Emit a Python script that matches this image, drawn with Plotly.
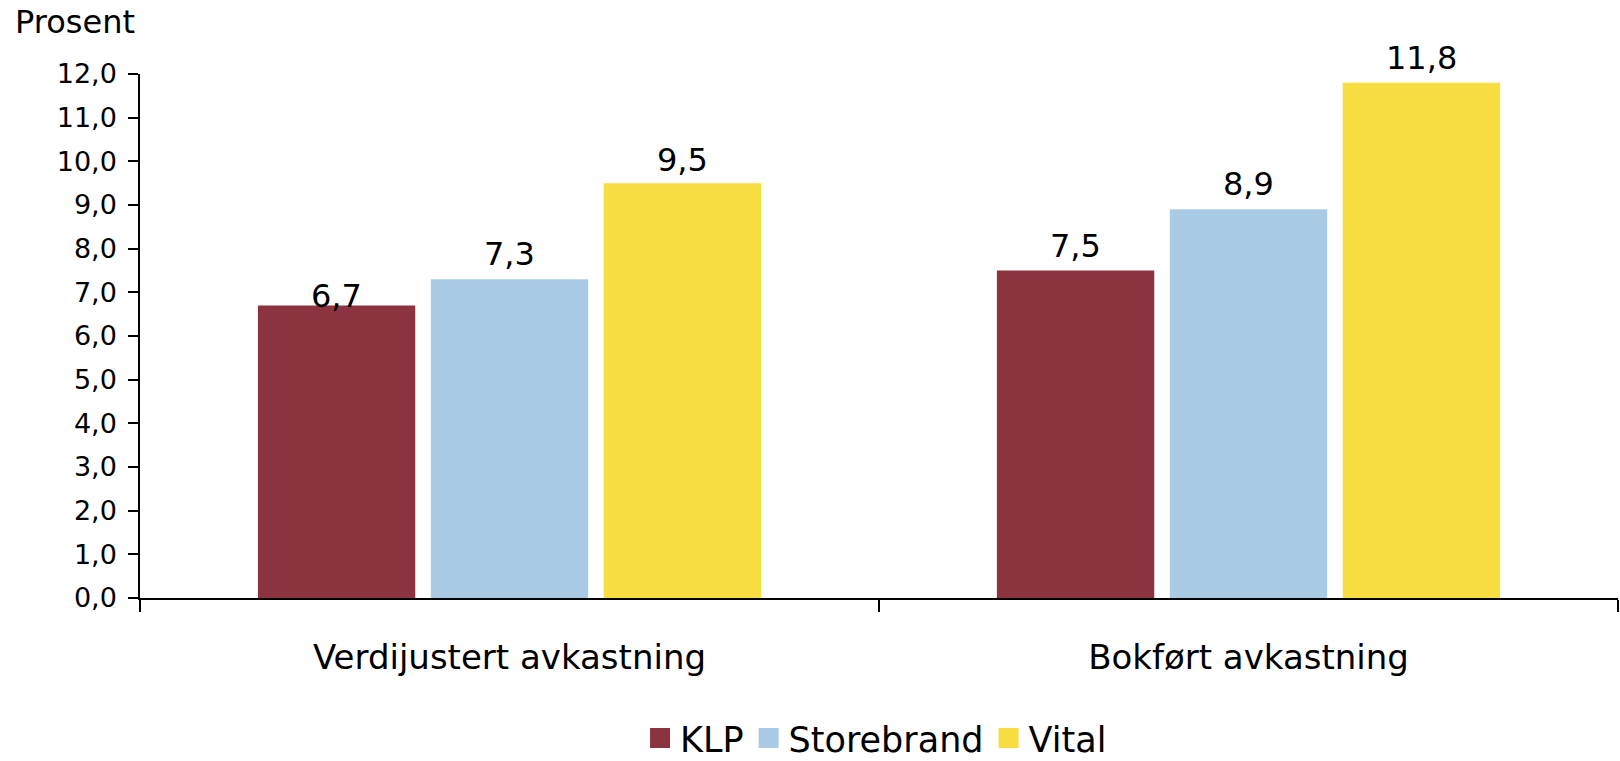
import plotly.graph_objects as go

categories = ["Verdijustert avkastning", "Bokført avkastning"]
series_names = ["KLP", "Storebrand", "Vital"]
klp = [6.7, 7.5]
storebrand = [7.3, 8.9]
vital = [9.5, 11.8]
y_ticks = [0, 1, 2, 3, 4, 5, 6, 7, 8, 9, 10, 11, 12]

colors = ["#8B333E", "#AACBE6", "#F7DD40"]
values = [klp, storebrand, vital]
# vertical lift of value labels above bar tops (pixels), per series/category
label_lift = [[9, 25], [25, 25], [23, 25]]
slot_px = 173

FONT = "DejaVu Sans"

fig = go.Figure()
for name, vals, col in zip(series_names, values, colors):
    fig.add_trace(go.Bar(name=name, x=categories, y=vals, showlegend=False,
                         marker=dict(color=col, line=dict(width=0))))
# legend entries (large square swatches)
for name, col in zip(series_names, colors):
    fig.add_trace(go.Scatter(name=name, x=[None], y=[None], mode="markers",
                             marker=dict(symbol="square", size=18, color=col,
                                         line=dict(color=col, width=4)),
                             showlegend=True, hoverinfo="skip"))

annotations = []
for i, vals in enumerate(values):
    for j, v in enumerate(vals):
        annotations.append(dict(
            x=categories[j], y=v, xref="x", yref="y",
            text=f"{v:.1f}".replace(".", ","), showarrow=False,
            xanchor="center", yanchor="middle",
            xshift=(i - 1) * slot_px, yshift=label_lift[i][j],
            font=dict(family=FONT, size=32, color="#000000"),
        ))
annotations.append(dict(
    x=-0.0859, y=1.099, xref="paper", yref="paper", text="Prosent",
    showarrow=False, xanchor="left", yanchor="middle",
    font=dict(family=FONT, size=32, color="#000000"),
))

fig.update_layout(
    width=1620, height=761,
    margin=dict(l=140, r=2, t=74, b=163, autoexpand=False),
    paper_bgcolor="white", plot_bgcolor="white",
    barmode="group", bargap=0.298, bargroupgap=0.09,
    separators=", ",
    font=dict(family=FONT, size=27, color="#000000"),
    showlegend=True,
    legend=dict(orientation="h", x=0.498, xanchor="center",
                yref="container", y=0.03, yanchor="middle",
                itemsizing="trace",
                font=dict(family=FONT, size=35, color="#000000"), traceorder="normal"),
    annotations=annotations,
)
fig.update_xaxes(
    showline=True, linecolor="#000000", linewidth=1.5, automargin=False,
    ticks="outside", tickson="boundaries", ticklen=12, tickwidth=1.5, tickcolor="#000000",
    tickfont=dict(family=FONT, size=34), ticklabelstandoff=28, showgrid=False,
)
fig.update_yaxes(
    range=[0, 12], tickvals=y_ticks, tickformat=".1f", automargin=False,
    showline=True, linecolor="#000000", linewidth=1.5,
    ticks="outside", ticklen=10, tickwidth=1.5, tickcolor="#000000",
    tickfont=dict(family=FONT, size=27), ticklabelstandoff=6,
    showgrid=False, zeroline=False,
)
fig.write_html("out.html", config={"displayModeBar": False},
               post_script="document.body.style.margin='0';document.body.style.overflow='hidden';")
